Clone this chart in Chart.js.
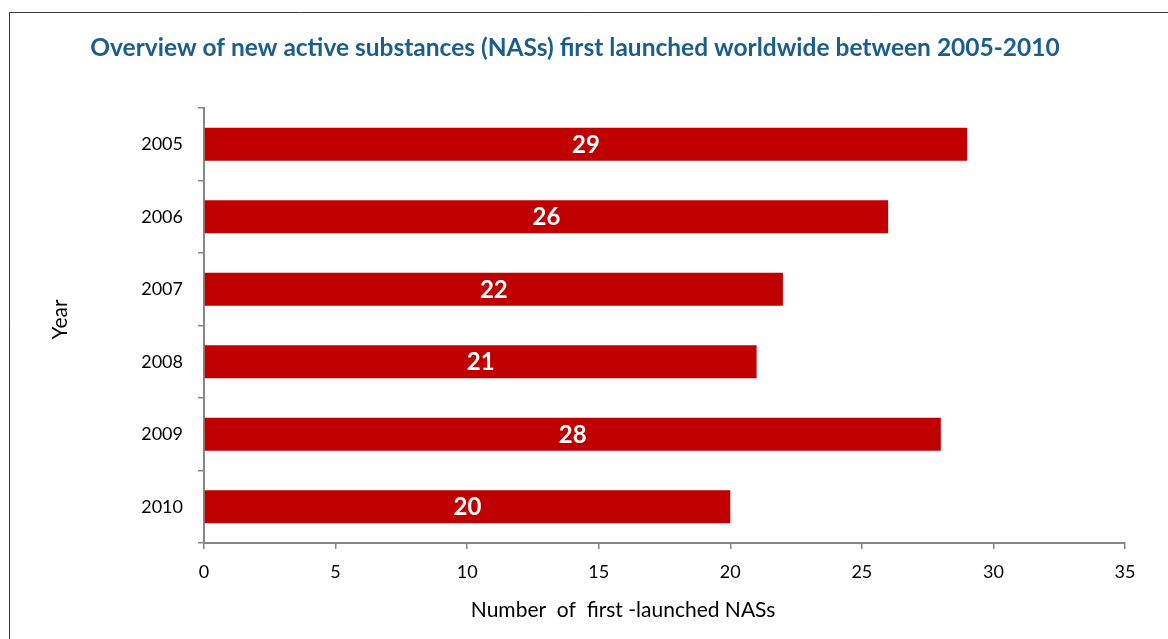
<!DOCTYPE html>
<html>
<head>
<meta charset="utf-8">
<title>New active substances first launched worldwide, 2005-2010</title>
<script src="https://cdn.jsdelivr.net/npm/chart.js@4/dist/chart.umd.min.js"></script>
<style>
  html, body { margin: 0; padding: 0; background: #ffffff; }
  #wrap { width: 1168px; height: 639px; }
</style>
</head>
<body>
<div id="wrap"><canvas id="chart" width="1168" height="639"></canvas></div>
<script>
// Data
const years = ['2005', '2006', '2007', '2008', '2009', '2010'];
const nasCounts = [29, 26, 22, 21, 28, 20];
const xMin = 0;
const xMax = 35;
const xStep = 5;

const chartTitle = 'Overview of new active substances (NASs) first launched worldwide between 2005-2010';
const xAxisTitle = 'Number  of  first -launched NASs';
const yAxisTitle = 'Year';

const FONT = 'Lato, "Open Sans", "DejaVu Sans", sans-serif';
const AXIS_GREY = '#868686';

// Frame line along the top and left of the chart
const framePlugin = {
  id: 'frame',
  beforeDraw(chart) {
    const ctx = chart.ctx;
    ctx.save();
    ctx.strokeStyle = '#3a3a3a';
    ctx.lineWidth = 1;
    ctx.beginPath();
    ctx.moveTo(9.5, chart.height + 2);
    ctx.lineTo(9.5, 12.5);
    ctx.lineTo(chart.width + 2, 12.5);
    ctx.stroke();
    ctx.restore();
  }
};

// White value labels centred inside each bar
const valueLabels = {
  id: 'valueLabels',
  afterDatasetsDraw(chart) {
    const ctx = chart.ctx;
    ctx.save();
    ctx.font = 'bold 24px ' + FONT;
    ctx.fillStyle = '#ffffff';
    ctx.textAlign = 'center';
    ctx.textBaseline = 'middle';
    chart.data.datasets.forEach((ds, di) => {
      chart.getDatasetMeta(di).data.forEach((bar, i) => {
        const cx = (bar.x + bar.base) / 2;
        ctx.fillText(String(ds.data[i]), cx, bar.y + 1);
      });
    });
    ctx.restore();
  }
};

// Axis titles
const axisTitles = {
  id: 'axisTitles',
  afterDraw(chart) {
    const ctx = chart.ctx;
    const a = chart.chartArea;
    ctx.save();
    ctx.fillStyle = '#000000';
    ctx.font = '21px ' + FONT;
    ctx.textAlign = 'center';
    ctx.textBaseline = 'middle';
    ctx.fillText(xAxisTitle, a.left + (a.right - a.left) * 0.455, 610);
    ctx.translate(60, a.top + (a.bottom - a.top) * 0.486);
    ctx.rotate(-Math.PI / 2);
    ctx.fillText(yAxisTitle, 0, 0);
    ctx.restore();
  }
};

new Chart(document.getElementById('chart'), {
  type: 'bar',
  data: {
    labels: years,
    datasets: [{
      label: 'NASs',
      data: nasCounts,
      backgroundColor: '#C00000',
      borderWidth: 0,
      barPercentage: 0.455,
      categoryPercentage: 1.0
    }]
  },
  options: {
    indexAxis: 'y',
    responsive: false,
    devicePixelRatio: 1,
    animation: false,
    layout: { padding: { left: 25, right: 43, top: 12, bottom: 0 } },
    plugins: {
      legend: { display: false },
      tooltip: { enabled: false },
      title: {
        display: true,
        text: chartTitle,
        color: '#1B5E8A',
        font: { family: FONT, size: 24.5, weight: 'bold', lineHeight: 1.2 },
        padding: { top: 21.3, bottom: 45.3 }
      }
    },
    scales: {
      x: {
        type: 'linear',
        min: xMin,
        max: xMax,
        ticks: {
          stepSize: xStep,
          color: '#000000',
          font: { family: FONT, size: 18 },
          padding: 12
        },
        grid: {
          drawOnChartArea: false,
          drawTicks: true,
          tickLength: 6,
          color: AXIS_GREY,
          lineWidth: 1.5
        },
        border: { display: true, color: AXIS_GREY, width: 2 },
        afterFit(scale) { scale.height = 96; }
      },
      y: {
        type: 'category',
        ticks: {
          color: '#000000',
          font: { family: FONT, size: 18 },
          padding: 15
        },
        grid: {
          drawOnChartArea: false,
          drawTicks: true,
          tickLength: 6,
          color: AXIS_GREY,
          lineWidth: 1.5
        },
        border: { display: true, color: AXIS_GREY, width: 2 },
        z: 1,
        afterFit(scale) { scale.width = 179; }
      }
    }
  },
  plugins: [framePlugin, valueLabels, axisTitles]
});
</script>
</body>
</html>
